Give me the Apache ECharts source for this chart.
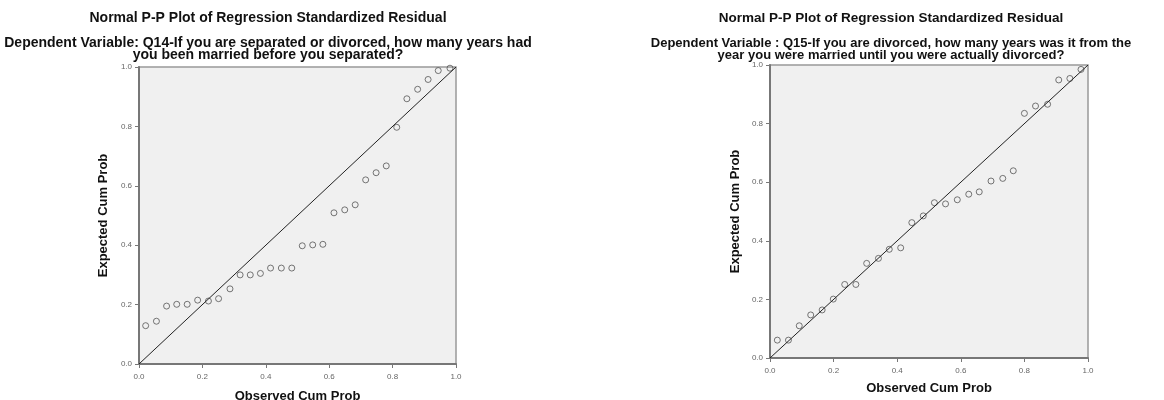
<!DOCTYPE html>
<html>
<head>
<meta charset="utf-8">
<script src="https://cdn.jsdelivr.net/npm/echarts@6/dist/echarts.min.js"></script>
<style>html,body{margin:0;padding:0;background:#fff}#c{width:1164px;height:400px}</style>
</head>
<body>
<div id="c"></div>
<script>
// Left chart: Q14 (observed cum prob, expected cum prob)
const leftObserved = [0.021,0.055,0.087,0.119,0.152,0.185,0.219,0.251,0.287,0.319,0.351,0.383,0.415,0.449,0.482,0.515,0.548,0.580,0.615,0.649,0.682,0.715,0.748,0.780,0.813,0.845,0.879,0.912,0.944,0.981];
const leftExpected = [0.129,0.144,0.195,0.201,0.201,0.215,0.212,0.220,0.253,0.300,0.300,0.305,0.323,0.323,0.323,0.398,0.401,0.403,0.509,0.519,0.536,0.620,0.644,0.667,0.797,0.893,0.925,0.958,0.988,0.996];
// Right chart: Q15
const rightObserved = [0.023,0.058,0.092,0.128,0.164,0.199,0.235,0.270,0.304,0.341,0.375,0.411,0.446,0.482,0.517,0.552,0.589,0.625,0.658,0.695,0.732,0.765,0.800,0.835,0.873,0.908,0.943,0.978];
const rightExpected = [0.061,0.061,0.110,0.147,0.164,0.201,0.251,0.251,0.323,0.340,0.371,0.376,0.462,0.485,0.530,0.526,0.540,0.559,0.567,0.604,0.613,0.639,0.835,0.860,0.866,0.949,0.954,0.985];
const diagonal = [[0,0],[1,1]];

const mainTitle = 'Normal P-P Plot of Regression Standardized Residual';
const leftSub = ['Dependent Variable: Q14-If you are separated or divorced, how many years had', 'you been married before you separated?'];
const rightSub = ['Dependent Variable : Q15-If you are divorced, how many years was it from the', 'year you were married until you were actually divorced?'];
const xName = 'Observed Cum Prob';
const yName = 'Expected Cum Prob';

const FONT = '"Liberation Sans", Arial, sans-serif';

function axis(idx, isX, gap) {
  return {
    gridIndex: idx, type: 'value', min: 0, max: 1, interval: 0.2,
    name: isX ? xName : yName,
    nameLocation: 'middle',
    nameGap: gap,
    nameTextStyle: { fontFamily: FONT, fontWeight: 'bold', fontSize: 13, color: '#111' },
    axisLine: { show: true, onZero: false, lineStyle: { color: '#777', width: 2 } },
    axisTick: { show: true, length: 4, lineStyle: { color: '#777', width: 1 } },
    axisLabel: { fontFamily: FONT, fontSize: 8, color: '#666', margin: isX ? 9 : 7,
      formatter: v => v.toFixed(1) },
    splitLine: { show: false }
  };
}

function pairs(xs, ys) { return xs.map((x, i) => [x, ys[i]]); }

function titleTexts(cx, lines, tSize, sSize) {
  const els = [{ type: 'text', x: cx, y: 18, style: { text: mainTitle, textAlign: 'center', textVerticalAlign: 'middle',
    font: 'bold ' + tSize + 'px ' + FONT, fill: '#111' } }];
  lines.forEach((t, i) => els.push({ type: 'text', x: cx, y: 43 + i * 12, style: { text: t, textAlign: 'center', textVerticalAlign: 'middle',
    font: 'bold ' + sSize + 'px ' + FONT, fill: '#111' } }));
  return els;
}

const chart = echarts.init(document.getElementById('c'), null, { renderer: 'canvas' });
chart.setOption({
  backgroundColor: '#fff',
  animation: false,
  graphic: titleTexts(268, leftSub, 14, 14).concat(titleTexts(891, rightSub, 13.5, 13)),
  grid: [
    { left: 139, top: 67, width: 317, height: 297, show: true, backgroundColor: '#f0f0f0', borderColor: '#999', borderWidth: 1.5,
      containLabel: false, outerBoundsMode: 'none' },
    { left: 770, top: 65, width: 318, height: 293, show: true, backgroundColor: '#f0f0f0', borderColor: '#999', borderWidth: 1.5,
      containLabel: false, outerBoundsMode: 'none' }
  ],
  xAxis: [axis(0, true, 26), axis(1, true, 24)],
  yAxis: [axis(0, false, 29), axis(1, false, 28)],
  series: [
    { type: 'line', xAxisIndex: 0, yAxisIndex: 0, data: diagonal, symbol: 'none', lineStyle: { color: '#222', width: 1 }, silent: true },
    { type: 'scatter', xAxisIndex: 0, yAxisIndex: 0, data: pairs(leftObserved, leftExpected), symbol: 'circle', symbolSize: 6,
      itemStyle: { color: 'rgba(0,0,0,0)', borderColor: '#555', borderWidth: 1 } },
    { type: 'line', xAxisIndex: 1, yAxisIndex: 1, data: diagonal, symbol: 'none', lineStyle: { color: '#222', width: 1 }, silent: true },
    { type: 'scatter', xAxisIndex: 1, yAxisIndex: 1, data: pairs(rightObserved, rightExpected), symbol: 'circle', symbolSize: 6,
      itemStyle: { color: 'rgba(0,0,0,0)', borderColor: '#555', borderWidth: 1 } }
  ]
});
</script>
</body>
</html>
